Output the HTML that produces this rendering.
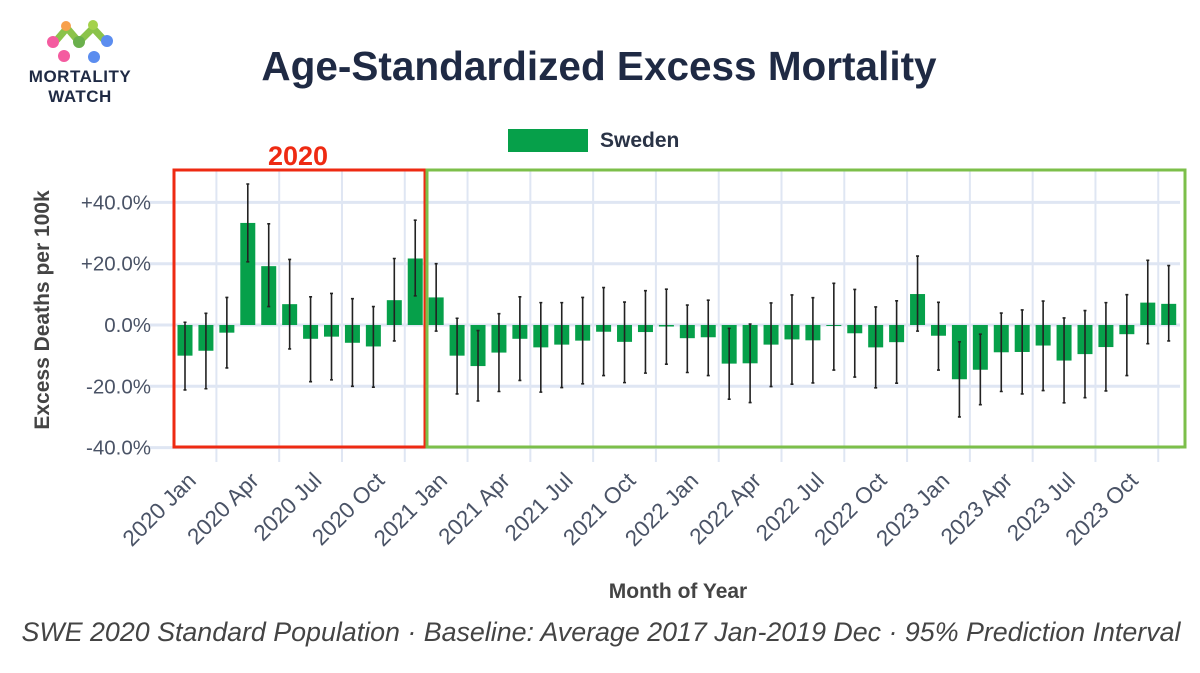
<!DOCTYPE html>
<html><head><meta charset="utf-8"><style>
body{margin:0;background:#fff;width:1200px;height:668px;overflow:hidden;font-family:"Liberation Sans",sans-serif}
</style></head><body>
<svg id="chart" width="1200" height="668" xmlns="http://www.w3.org/2000/svg" font-family="Liberation Sans, sans-serif">
<g>
<path d="M55 42 L67 28 L79 42 L93 28 L106 42" stroke="#8bc34a" stroke-width="7" fill="none" stroke-linecap="round"/>
<circle cx="53" cy="42" r="6" fill="#f45ca0"/><circle cx="66" cy="26" r="5" fill="#f7a04b"/>
<circle cx="79" cy="42" r="6" fill="#6ab04c"/><circle cx="93" cy="25" r="5" fill="#a4d24a"/>
<circle cx="107" cy="41" r="6" fill="#5b8def"/><circle cx="64" cy="56" r="6" fill="#f45ca0"/><circle cx="94" cy="57" r="6" fill="#5b8def"/>
<text x="80" y="82" text-anchor="middle" font-size="17" font-weight="bold" fill="#1f2a44" letter-spacing="0.5">MORTALITY</text>
<text x="80" y="102" text-anchor="middle" font-size="17" font-weight="bold" fill="#1f2a44" letter-spacing="0.5">WATCH</text>
</g>
<text x="599" y="80" text-anchor="middle" font-size="40.5" font-weight="bold" fill="#1f2a44">Age-Standardized Excess Mortality</text>
<g><rect x="508" y="129" width="80" height="23" fill="#06a04a"/><text x="600" y="147" font-size="21" font-weight="bold" fill="#2a3346">Sweden</text></g>
<g id="grid"></g><g id="marks"></g>
<rect x="174" y="170" width="251" height="277" fill="none" stroke="#ee2a12" stroke-width="3"/>
<rect x="427" y="170" width="758" height="277" fill="none" stroke="#7cbf4a" stroke-width="3"/>
<text x="298" y="165" text-anchor="middle" font-size="27" font-weight="bold" fill="#ee2a12">2020</text>
<text transform="translate(49,310) rotate(-90)" text-anchor="middle" font-size="21" font-weight="bold" fill="#444">Excess Deaths per 100k</text>
<text x="678" y="598" text-anchor="middle" font-size="21" font-weight="bold" fill="#444">Month of Year</text>
<text x="601" y="641" text-anchor="middle" font-size="26.8" font-style="italic" fill="#444">SWE 2020 Standard Population · Baseline: Average 2017 Jan-2019 Dec · 95% Prediction Interval</text>
</svg>
<script>
const values=[-10,-8.4,-2.5,33.3,19.2,6.8,-4.5,-3.8,-5.8,-7,8.1,21.7,9,-10,-13.4,-9,-4.5,-7.3,-6.4,-5.1,-2.2,-5.5,-2.3,-0.5,-4.3,-4,-12.6,-12.5,-6.4,-4.7,-5,-0.3,-2.7,-7.3,-5.6,10.1,-3.5,-17.7,-14.6,-8.9,-8.8,-6.7,-11.6,-9.5,-7.2,-3,7.3,6.9];
const upper=[0.9,3.8,9,46,33,21.4,9.2,10.3,8.6,6,21.7,34.2,20,2.2,-1.8,3.7,9.2,7.3,7.3,9,12.2,7.5,11.2,11.7,6.5,8.1,-1.1,0.3,7.2,9.8,8.9,13.6,11.6,5.9,7.9,22.5,7.4,-5.5,-3,3.9,4.9,7.8,2.3,4.7,7.3,9.9,21.1,19.4];
const lower=[-21.2,-20.8,-14,20.6,6,-7.8,-18.5,-17.9,-20,-20.3,-5.2,9.5,-2,-22.5,-24.8,-21.7,-18.1,-21.9,-20.4,-19.2,-16.5,-18.8,-15.7,-12.8,-15.5,-16.5,-24.2,-25.3,-20.1,-19.3,-18.9,-14.7,-17,-20.5,-19,-2,-14.7,-30,-26,-21.7,-22.5,-21.4,-25.4,-23.7,-21.5,-16.5,-6.1,-5.2];
const yTicks=[40,20,0,-20,-40];
const yTickLabels=["+40.0%","+20.0%","0.0%","-20.0%","-40.0%"];
const xTickLabels=["2020 Jan","2020 Apr","2020 Jul","2020 Oct","2021 Jan","2021 Apr","2021 Jul","2021 Oct","2022 Jan","2022 Apr","2022 Jul","2022 Oct","2023 Jan","2023 Apr","2023 Jul","2023 Oct"];
const NS="http://www.w3.org/2000/svg";
const xs=i=>185+i*20.93;
const ys=v=>325-v*3.065;
function mk(tag,attrs,parent){const e=document.createElementNS(NS,tag);for(const k in attrs)e.setAttribute(k,attrs[k]);parent.appendChild(e);return e;}
const grid=document.getElementById('grid'),marks=document.getElementById('marks');
xTickLabels.forEach((t,k)=>{const x=xs(3*k+1.5);
 const g=mk('line',{x1:x,x2:x,y1:170,y2:462,stroke:'#dfe6f3','stroke-width':2},grid);
 
 
 const tx=mk('text',{transform:`translate(${x-19},482) rotate(-45)`,'text-anchor':'end','font-size':22.5,fill:'#4a5366'},grid);
 tx.textContent=t;
 
 
});
yTicks.forEach((v,k)=>{const y=ys(v);
 const g=mk('line',{x1:150,x2:1180,y1:y,y2:y,stroke:'#dfe6f3','stroke-width':3},grid);
 
 
 const tx=mk('text',{x:151,y:y+7,'text-anchor':'end','font-size':20.5,fill:'#4a5366'},grid);
 tx.textContent=yTickLabels[k];
 
 
});
values.forEach((v,i)=>{const x=xs(i);const y0=ys(0),y1=ys(v);
 const r=mk('rect',{x:x-7.5,y:Math.min(y0,y1),width:15,height:Math.max(1,Math.abs(y1-y0)),fill:'#06a04a'},marks);
 
 
 const e=mk('path',{d:`M${x} ${ys(upper[i])}V${ys(lower[i])}M${x-1.5} ${ys(upper[i])}h3M${x-1.5} ${ys(lower[i])}h3`,stroke:'#222','stroke-width':1.6,fill:'none'},marks);
 
 
});
</script>
</body></html>
